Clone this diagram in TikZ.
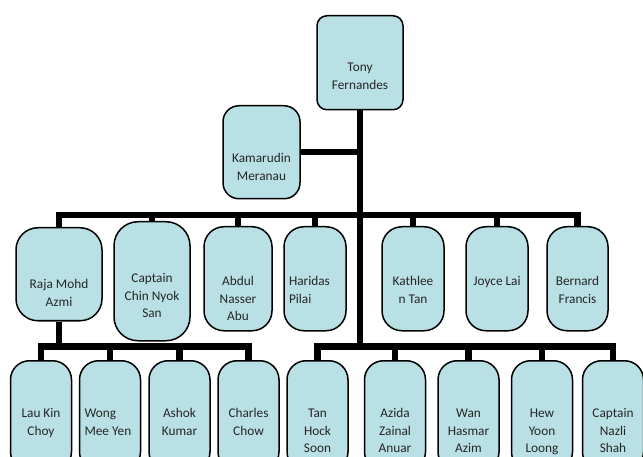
\documentclass[tikz,border=0pt]{standalone}
\usepackage{fontspec}
\setmainfont{Carlito}
\definecolor{boxfill}{RGB}{185,224,228}

\begin{document}
\begin{tikzpicture}[x=1pt,y=-1pt,
        person/.style={draw, line width=1.5pt, fill=boxfill, rounded corners=16pt,
            anchor=north, align=flush center, inner xsep=5pt, inner ysep=0pt,
            font=\fontsize{13.3}{17.5}\selectfont, text=black!85},
        midrow/.style={rounded corners=20pt, text width=52pt, text height=59pt, text depth=45pt},
        lowrow/.style={rounded corners=19pt, text width=51pt, text height=57pt, text depth=53pt},
        bar/.style={line width=6.5pt}]
    \useasboundingbox (0,0) rectangle (643,457);
    \clip (0,0) rectangle (643,457);

    % top of the chart
    \node[person, rounded corners=10pt, text width=76pt, text height=56pt, text depth=38pt] (tony) at (360,15) {Tony\\Fernandes};
    \node[person, text width=67pt, text height=57pt, text depth=36pt] (kama) at (261.5,105) {Kamarudin\\Meranau};

    % second row
    \node[person, rounded corners=22pt, text width=76pt, text height=61pt, text depth=32pt] (raja) at (59,227) {Raja Mohd\\Azmi};
    \node[person, rounded corners=24pt, text width=66pt, text height=61pt, text depth=58pt] (chin) at (152,221) {Captain\\Chin Nyok\\San};
    \node[person, midrow, text width=58pt] (abdul) at (238,226) {Abdul\\Nasser\\Abu};
    \node[person, midrow, align=flush left] (haridas) at (315,226) {Haridas\\Pilai};
    \node[person, midrow] (kathleen) at (413,226) {Kathlee\\n Tan};
    \node[person, midrow] (joyce) at (497,226) {Joyce Lai};
    \node[person, midrow, text width=51pt] (bernard) at (577.5,226) {Bernard\\Francis};

    % third row
    \node[person, lowrow] (lau) at (41,360) {Lau Kin\\Choy};
    \node[person, lowrow, align=flush left] (wong) at (110,360) {Wong\\Mee Yen};
    \node[person, lowrow] (ashok) at (179.5,360) {Ashok\\Kumar};
    \node[person, lowrow] (charles) at (248.5,360) {Charles\\Chow};
    \node[person, lowrow] (tan) at (317.5,360) {Tan\\Hock\\Soon};
    \node[person, lowrow] (azida) at (395,360) {Azida\\Zainal\\Anuar};
    \node[person, lowrow] (wan) at (468.5,360) {Wan\\Hasmar\\Azim};
    \node[person, lowrow] (hew) at (542,360) {Hew\\Yoon\\Loong};
    \node[person, lowrow] (nazli) at (613,360) {Captain\\Nazli\\Shah};

    % connectors
    \coordinate (topbar) at (0,215);
    \coordinate (lowbar) at (0,346.5);
    \draw[bar] (kama.east) -- (kama.east -| tony.south);
    \draw[bar] (tony.south) -- (tony.south |- lowbar);
    \draw[bar] (raja.north) -- (raja.north |- topbar) -- (bernard.north |- topbar) -- (bernard.north);
    \foreach \n in {chin,abdul,haridas,kathleen,joyce}
        \draw[bar] (\n.north) -- (\n.north |- topbar);
    \draw[bar] (raja.south) -- (raja.south |- lowbar);
    \draw[bar] (lau.north) -- (lau.north |- lowbar) -- (charles.north |- lowbar) -- (charles.north);
    \foreach \n in {wong,ashok}
        \draw[bar] (\n.north) -- (\n.north |- lowbar);
    \draw[bar] (tan.north) -- (tan.north |- lowbar) -- (nazli.north |- lowbar) -- (nazli.north);
    \foreach \n in {azida,wan,hew}
        \draw[bar] (\n.north) -- (\n.north |- lowbar);
\end{tikzpicture}
\end{document}
